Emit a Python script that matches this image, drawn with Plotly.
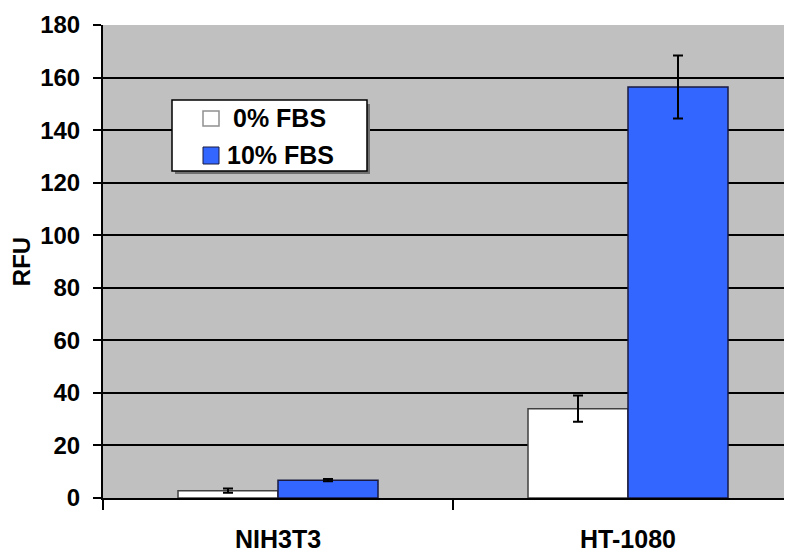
import plotly.graph_objects as go

categories = ["NIH3T3", "HT-1080"]
series_names = ["0% FBS", "10% FBS"]
fbs0_values = [2.8, 34.0]
fbs0_errors = [0.8, 5.0]
fbs10_values = [6.8, 156.4]
fbs10_errors = [0.4, 12.0]
y_ticks = [0, 20, 40, 60, 80, 100, 120, 140, 160, 180]

W, H = 792, 554
OFF = 8  # page body offset
L, R, T, B = 95, 0, 17, 64
PW, PH = W - L - R, H - T - B

FONT = "Liberation Sans, Arial, sans-serif"
FS = 24
BLUE = "#3366FF"

def px(x):
    return (x - OFF - L) / PW

def py(y):
    return (H - B - (y - OFF)) / PH

fig = go.Figure()
fig.add_trace(go.Bar(
    x=categories, y=fbs0_values, name=series_names[0],
    marker=dict(color="white", line=dict(color="#404040", width=1.5)),
    error_y=dict(type="data", array=fbs0_errors, color="black", thickness=2, width=5),
))
fig.add_trace(go.Bar(
    x=categories, y=fbs10_values, name=series_names[1],
    marker=dict(color=BLUE, line=dict(color="#1a1a40", width=1.5)),
    error_y=dict(type="data", array=fbs10_errors, color="black", thickness=2, width=5),
))

# manual legend (Excel style with shadow)
shapes = [
    dict(type="rect", xref="paper", yref="paper", x0=px(175), x1=px(370), y0=py(104), y1=py(174),
         fillcolor="#707070", line=dict(width=0), layer="above"),
    dict(type="rect", xref="paper", yref="paper", x0=px(172), x1=px(367), y0=py(100), y1=py(171),
         fillcolor="white", line=dict(color="black", width=1.5), layer="above"),
    dict(type="rect", xref="paper", yref="paper", x0=px(203), x1=px(219), y0=py(111), y1=py(126),
         fillcolor="white", line=dict(color="#909090", width=1.5), layer="above"),
    dict(type="rect", xref="paper", yref="paper", x0=px(203), x1=px(219), y0=py(147), y1=py(164),
         fillcolor=BLUE, line=dict(color="#1a1a40", width=1), layer="above"),
]
annotations = [
    dict(text="<b>" + series_names[0] + "</b>", xref="paper", yref="paper", x=px(231), y=py(118),
         xanchor="left", yanchor="middle", showarrow=False, font=dict(family=FONT, size=25, color="black")),
    dict(text="<b>" + series_names[1] + "</b>", xref="paper", yref="paper", x=px(225), y=py(155),
         xanchor="left", yanchor="middle", showarrow=False, font=dict(family=FONT, size=25, color="black")),
]

fig.update_layout(
    width=W, height=H,
    margin=dict(l=L, r=R, t=T, b=B, autoexpand=False),
    paper_bgcolor="white", plot_bgcolor="#C0C0C0",
    barmode="group", bargap=0.4286, bargroupgap=0,
    showlegend=False,
    shapes=shapes, annotations=annotations,
    font=dict(family=FONT, size=FS, color="black"),
)
fig.update_xaxes(
    range=[-0.5, -0.5 + PW / 350.0],
    showline=True, linecolor="black", linewidth=2,
    ticks="outside", tickson="boundaries", ticklen=10, tickwidth=2, tickcolor="black",
    tickfont=dict(family=FONT, size=25, color="black"),
    ticklabelstandoff=18,
    tickvals=categories, ticktext=["<b>" + c + "</b>" for c in categories],
    showgrid=False, zeroline=False, automargin=False,
)
fig.update_yaxes(
    range=[0, 180], tickvals=y_ticks, ticktext=["<b>%d</b>" % v for v in y_ticks],
    showline=True, linecolor="black", linewidth=2,
    ticks="outside", ticklen=8, tickwidth=2, tickcolor="black",
    tickfont=dict(family=FONT, size=FS, color="black"),
    ticklabelstandoff=8,
    showgrid=True, gridcolor="black", gridwidth=1.5, zeroline=False,
    title=dict(text="<b>RFU</b>", font=dict(family=FONT, size=FS, color="black"), standoff=4),
    automargin=False,
)

fig.write_html("out.html")
